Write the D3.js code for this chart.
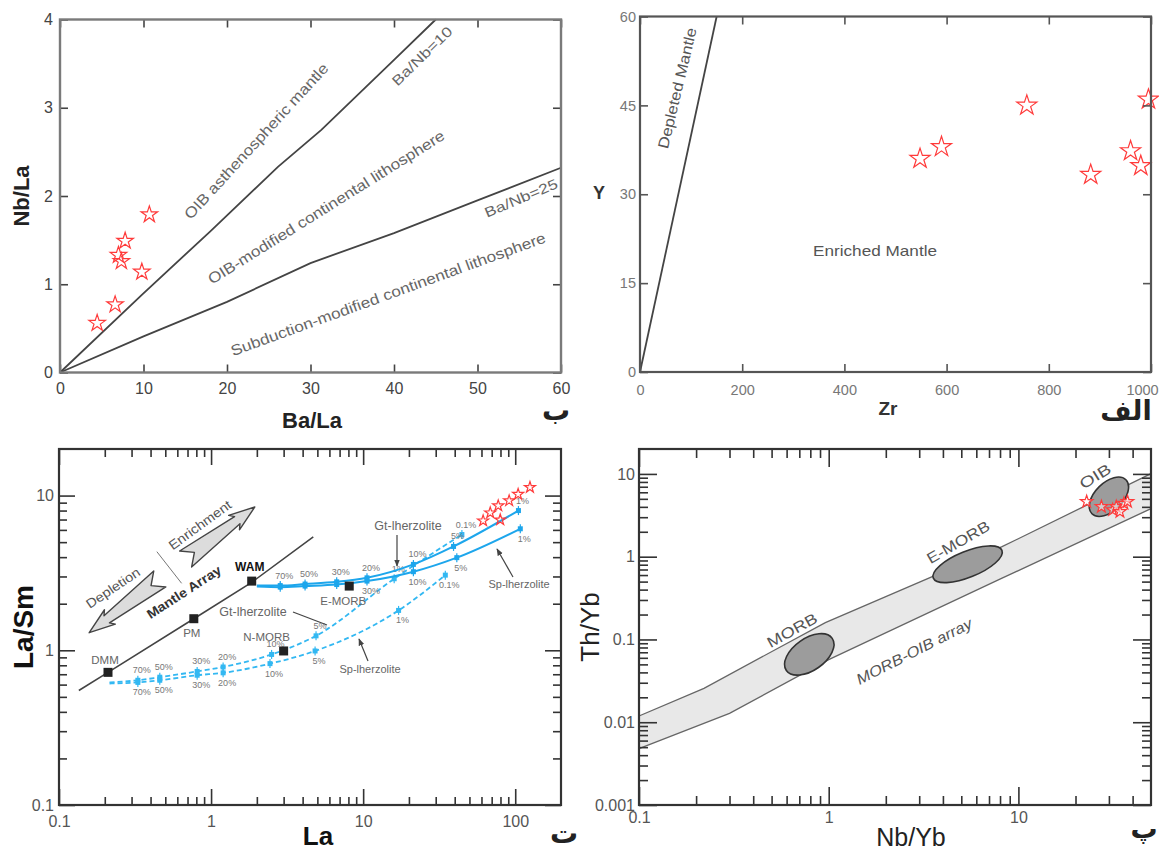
<!DOCTYPE html>
<html>
<head>
<meta charset="utf-8">
<script src="https://cdn.jsdelivr.net/npm/d3@7/dist/d3.min.js"></script>
<style>
html,body{margin:0;padding:0;background:#fff;}
svg{display:block;}
</style>
</head>
<body>
<svg id="chart" width="1159" height="857"></svg>
<script>
// ================= DATA =================
// Panel "ب": Nb/La vs Ba/La
const p1XTicks = [0, 10, 20, 30, 40, 50, 60];
const p1YTicks = [0, 1, 2, 3, 4];
const p1SampleBaLa = [4.45, 6.6, 7.0, 7.35, 7.8, 9.8, 10.7];
const p1SampleNbLa = [0.56, 0.77, 1.33, 1.26, 1.49, 1.14, 1.79];
const baNb10BaLa = [0, 9.8, 18, 26.1, 31.3, 40.1, 45];
const baNb10NbLa = [0, 0.88, 1.6, 2.33, 2.75, 3.55, 4];
const baNb25BaLa = [0, 10, 20, 30, 40, 50, 60];
const baNb25NbLa = [0, 0.41, 0.80, 1.24, 1.58, 1.95, 2.32];

// Panel "الف": Y vs Zr
const p2XTicks = [0, 200, 400, 600, 800, 1000];
const p2YTicks = [0, 15, 30, 45, 60];
const p2SampleZr = [548, 590, 757, 882, 960, 980, 995];
const p2SampleY = [36, 38, 45, 33.3, 37.3, 34.8, 46];
const depletedZr = [0, 150];
const depletedY = [0, 60];

// Panel "ت": La/Sm vs La (log-log)
const p3XMajor = [0.1, 1, 10, 100];
const p3XLabels = ["0.1", "1", "10", "100"];
const p3YMajor = [0.1, 1, 10];
const p3YLabels = ["0.1", "1", "10"];
const p3SampleLa = [61.5, 68.5, 77.3, 79.7, 91.2, 104.5, 125];
const p3SampleLaSm = [6.87, 7.74, 8.6, 6.97, 9.27, 10.2, 11.3];
const mantleArrayLa = [0.135, 0.21, 0.77, 1.85, 4.7];
const mantleArrayLaSm = [0.55, 0.72, 1.6, 2.75, 5.4];
const sourceNames = ["DMM", "PM", "WAM", "N-MORB", "E-MORB"];
const sourceLa = [0.21, 0.77, 1.85, 3.0, 8.1];
const sourceLaSm = [0.72, 1.6, 2.8, 0.99, 2.6];
// WAM-source melting curves (solid)
const wamGtLa = [2.0, 2.85, 4.15, 6.7, 10.6, 21.4, 39.3, 105];
const wamGtLaSm = [2.62, 2.62, 2.68, 2.77, 2.94, 3.59, 4.69, 8.0];
const wamGtMelt = [null, "70%", "50%", "30%", "20%", "10%", "5%", "1%"];
const wamSpLa = [2.0, 2.85, 4.15, 6.7, 10.6, 21.4, 41.3, 108];
const wamSpLaSm = [2.58, 2.56, 2.6, 2.66, 2.8, 3.22, 3.97, 6.1];
const wamSpMelt = [null, "", "", "", "30%", "10%", "5%", "1%"];
// DMM-source melting curves (dashed)
const dmmGtLa = [0.215, 0.33, 0.46, 0.81, 1.2, 2.5, 4.9, 16, 44.6];
const dmmGtLaSm = [0.62, 0.64, 0.67, 0.73, 0.78, 0.94, 1.24, 2.9, 5.6];
const dmmGtMelt = [null, "70%", "50%", "30%", "20%", "10%", "5%", "1%", "0.1%"];
const dmmSpLa = [0.215, 0.33, 0.46, 0.81, 1.2, 2.44, 4.83, 17.1, 34.7];
const dmmSpLaSm = [0.61, 0.62, 0.64, 0.69, 0.715, 0.82, 0.99, 1.81, 3.06];
const dmmSpMelt = [null, "70%", "50%", "30%", "20%", "10%", "5%", "1%", "0.1%"];
// annotation arrows (data coordinates: [La, La/Sm])
const depletionArrow = [[0.46, 2.89], [0.158, 1.30]];   // tail -> tip
const enrichmentArrow = [[0.68, 3.89], [1.94, 8.44]];   // tail -> tip
const arraySeparator = [[0.44, 4.34], [0.64, 2.71]];

// Panel "پ": Th/Yb vs Nb/Yb (log-log)
const p4XMajor = [0.1, 1, 10];
const p4XLabels = ["0.1", "1", "10"];
const p4YMajor = [0.001, 0.01, 0.1, 1, 10];
const p4YLabels = ["0.001", "0.01", "0.1", "1", "10"];
const arrayUpperNb = [0.1, 0.22, 0.96, 8.2, 50];
const arrayUpperTh = [0.0119, 0.0257, 0.16, 1.32, 10.1];
const arrayLowerNb = [0.1, 0.3, 1.0, 8.2, 50];
const arrayLowerTh = [0.0048, 0.0128, 0.057, 0.55, 3.8];
const fieldNames = ["MORB", "E-MORB", "OIB"];
const fieldNb = [0.79, 5.4, 30];
const fieldTh = [0.066, 0.81, 5.3];
const p4SampleNb = [22.9, 27.4, 31.4, 32.8, 36, 37.6, 34.3];
const p4SampleTh = [4.62, 4.02, 3.67, 4.02, 4.4, 4.62, 3.5];

// ================= DRAWING =================
const FONT = '"Liberation Sans", Arial, Helvetica, sans-serif';
const AR = '"DejaVu Sans", "Noto Sans", sans-serif';
const svg = d3.select("#chart");
svg.append("rect").attr("width", 1159).attr("height", 857).attr("fill", "#fff");
const defs = svg.append("defs");
defs.append("marker").attr("id", "ah").attr("viewBox", "0 0 10 10").attr("refX", 9).attr("refY", 5)
  .attr("markerWidth", 6).attr("markerHeight", 6).attr("orient", "auto")
  .append("path").attr("d", "M0,1 L10,5 L0,9 Z").attr("fill", "#444");

const zip = (a, b) => a.map((v, i) => [v, b[i]]);

function txt(g, x, y, s, o = {}) {
  const t = g.append("text")
    .attr("transform", `translate(${x},${y}) rotate(${o.rot || 0})`)
    .attr("text-anchor", o.anchor || "middle")
    .attr("dominant-baseline", o.base || "auto")
    .attr("font-family", o.font || FONT)
    .attr("font-size", o.size || 14)
    .attr("font-weight", o.weight || "normal")
    .attr("font-style", o.style || "normal")
    .attr("fill", o.fill || "#555")
    .text(s);
  if (o.len) t.attr("textLength", o.len).attr("lengthAdjust", "spacingAndGlyphs");
  return t;
}

function stars(g, xs, ys, sx, sy, size, fill) {
  g.selectAll(null).data(zip(xs, ys)).join("path")
    .attr("d", d3.symbol(d3.symbolStar, size)())
    .attr("transform", d => `translate(${sx(d[0])},${sy(d[1])})`)
    .attr("fill", fill || "none")
    .attr("stroke", "#ff3a3a").attr("stroke-width", 1.2);
}

function styler(o) {
  return sel => {
    sel.select(".domain").remove();
    sel.attr("font-family", FONT).attr("font-size", o.fs);
    sel.selectAll(".tick line").attr("stroke", o.tickColor).attr("stroke-width", o.tickW);
    sel.selectAll(".tick text").attr("fill", o.labelColor);
  };
}

function linAxes(g, x, y, xt, yt, o) {
  const [x0, x1] = x.range(), [y0, y1] = y.range();
  const st = styler(o), none = () => "";
  const bottom = g.append("g").attr("transform", `translate(0,${y0})`)
    .call(d3.axisBottom(x).tickValues(xt).tickSize(-o.tick).tickPadding(o.xpad).tickFormat(d3.format("d"))).call(st);
  if (o.lastDx) bottom.selectAll(".tick text").filter(d => d === xt[xt.length - 1]).attr("dx", o.lastDx);
  g.append("g").attr("transform", `translate(0,${y1})`)
    .call(d3.axisTop(x).tickValues(xt).tickSize(-o.tick).tickFormat(none)).call(st);
  g.append("g").attr("transform", `translate(${x0},0)`)
    .call(d3.axisLeft(y).tickValues(yt).tickSize(-o.tick).tickPadding(o.ypad).tickFormat(d3.format("d"))).call(st);
  g.append("g").attr("transform", `translate(${x1},0)`)
    .call(d3.axisRight(y).tickValues(yt).tickSize(-o.tick).tickFormat(none)).call(st);
  g.append("rect").attr("x", x0).attr("y", y1).attr("width", x1 - x0).attr("height", y0 - y1)
    .attr("fill", "none").attr("stroke", o.frame).attr("stroke-width", o.frameW);
}

function minors(lo, hi) { // 2..9 multiples within each decade in [lo, hi)
  const out = [];
  for (let e = Math.round(Math.log10(lo)); Math.pow(10, e) < hi; e++) {
    d3.range(2, 10).forEach(m => { const v = m * Math.pow(10, e); if (v < hi) out.push(v); });
  }
  return out;
}

function logAxes(g, x, y, xMaj, xLab, yMaj, yLab, o) {
  const [x0, x1] = x.range(), [y0, y1] = y.range();
  const st = styler(o), none = () => "";
  const fmt = (vals, labs) => d => { const i = vals.indexOf(d); return i < 0 ? "" : labs[i]; };
  const xMin = minors(x.domain()[0], x.domain()[1]);
  const yMin = minors(y.domain()[0], y.domain()[1]);
  const add = (tr, ax) => g.append("g").attr("transform", tr).call(ax).call(st);
  add(`translate(0,${y0})`, d3.axisBottom(x).tickValues(xMaj).tickSize(-o.major).tickPadding(o.xpad).tickFormat(fmt(xMaj, xLab)));
  add(`translate(0,${y0})`, d3.axisBottom(x).tickValues(xMin).tickSize(-o.minor).tickFormat(none));
  add(`translate(0,${y1})`, d3.axisTop(x).tickValues(xMaj).tickSize(-o.major).tickFormat(none));
  add(`translate(0,${y1})`, d3.axisTop(x).tickValues(xMin).tickSize(-o.minor).tickFormat(none));
  add(`translate(${x0},0)`, d3.axisLeft(y).tickValues(yMaj).tickSize(-o.major).tickPadding(o.ypad).tickFormat(fmt(yMaj, yLab)));
  add(`translate(${x0},0)`, d3.axisLeft(y).tickValues(yMin).tickSize(-o.minor).tickFormat(none));
  add(`translate(${x1},0)`, d3.axisRight(y).tickValues(yMaj).tickSize(-o.major).tickFormat(none));
  add(`translate(${x1},0)`, d3.axisRight(y).tickValues(yMin).tickSize(-o.minor).tickFormat(none));
  g.append("rect").attr("x", x0).attr("y", y1).attr("width", x1 - x0).attr("height", y0 - y1)
    .attr("fill", "none").attr("stroke", o.frame).attr("stroke-width", o.frameW);
}

// ---------------- Panel 1 (ب) ----------------
{
  const g = svg.append("g");
  const x = d3.scaleLinear().domain([0, 60]).range([60, 561]);
  const y = d3.scaleLinear().domain([0, 4]).range([372.5, 19.5]);
  const line = d3.line().x(d => x(d[0])).y(d => y(d[1]));
  g.append("path").datum(zip(baNb10BaLa, baNb10NbLa)).attr("d", line)
    .attr("fill", "none").attr("stroke", "#444").attr("stroke-width", 1.8);
  g.append("path").datum(zip(baNb25BaLa, baNb25NbLa)).attr("d", line)
    .attr("fill", "none").attr("stroke", "#444").attr("stroke-width", 1.8);
  const c = "#666";
  txt(g, 256, 141, "OIB asthenospheric mantle", { rot: -47.5, size: 15, fill: c, base: "central", len: 205 });
  txt(g, 422, 56, "Ba/Nb=10", { rot: -44, size: 14, fill: c, base: "central", len: 78 });
  txt(g, 326, 207, "OIB-modified continental lithosphere", { rot: -32, size: 15, fill: c, base: "central", len: 276 });
  txt(g, 521, 198, "Ba/Nb=25", { rot: -23, size: 14, fill: c, base: "central", len: 78 });
  txt(g, 388, 294, "Subduction-modified continental lithosphere", { rot: -20, size: 15, fill: c, base: "central", len: 334 });
  stars(g, p1SampleBaLa, p1SampleNbLa, x, y, 85);
  linAxes(g, x, y, p1XTicks, p1YTicks, { tick: 8, xpad: 10, ypad: 7, fs: 16, tickColor: "#444", tickW: 1.6, labelColor: "#444", frame: "#7a7a7a", frameW: 2.4 });
  txt(g, 312, 428, "Ba/La", { size: 22, weight: "bold", fill: "#222" });
  txt(g, 21, 196, "Nb/La", { rot: -90, size: 22, weight: "bold", fill: "#222", base: "central" });
  txt(g, 556, 420, "ب", { size: 28, weight: "bold", fill: "#222", font: AR });
}

// ---------------- Panel 2 (الف) ----------------
{
  const g = svg.append("g");
  const x = d3.scaleLinear().domain([0, 1000]).range([640, 1151]);
  const y = d3.scaleLinear().domain([0, 60]).range([372, 16.5]);
  const line = d3.line().x(d => x(d[0])).y(d => y(d[1]));
  g.append("path").datum(zip(depletedZr, depletedY)).attr("d", line)
    .attr("fill", "none").attr("stroke", "#444").attr("stroke-width", 1.8);
  txt(g, 677, 88, "Depleted Mantle", { rot: -76.5, size: 15, fill: "#555", base: "central", len: 124 });
  txt(g, 875, 250, "Enriched Mantle", { size: 15, fill: "#555", base: "central", len: 124 });
  stars(g, p2SampleZr, p2SampleY, x, y, 125);
  linAxes(g, x, y, p2XTicks, p2YTicks, { tick: 8, xpad: 13, ypad: 4, fs: 14.5, tickColor: "#555", tickW: 1.6, labelColor: "#777", frame: "#555", frameW: 2.2, lastDx: -9 });
  txt(g, 888, 415, "Zr", { size: 19, weight: "bold", fill: "#333" });
  txt(g, 599, 199, "Y", { size: 18, weight: "bold", fill: "#333" });
  txt(g, 1126, 420, "الف", { size: 27, weight: "bold", fill: "#222", font: AR });
}

// ---------------- Panel 3 (ت) ----------------
{
  const g = svg.append("g");
  const x = d3.scaleLog().domain([0.1, 200]).range([59, 561]);
  const y = d3.scaleLog().domain([0.1, 20]).range([805, 449]);
  const P = d => [x(d[0]), y(d[1])];
  const straight = d3.line().x(d => x(d[0])).y(d => y(d[1]));
  const smooth = d3.line().x(d => x(d[0])).y(d => y(d[1])).curve(d3.curveMonotoneX);

  // mantle array
  g.append("path").datum(zip(mantleArrayLa, mantleArrayLaSm)).attr("d", straight)
    .attr("fill", "none").attr("stroke", "#444").attr("stroke-width", 1.6);
  g.append("path").datum(arraySeparator).attr("d", straight)
    .attr("fill", "none").attr("stroke", "#777").attr("stroke-width", 1);

  // big arrows
  function dart(tail, tip) {
    const [tx, ty] = P(tail), [px, py] = P(tip);
    const L = Math.hypot(px - tx, py - ty), ux = (px - tx) / L, uy = (py - ty) / L, nx = -uy, ny = ux;
    const pt = (a, b) => [tx + ux * a + nx * b, ty + uy * a + ny * b];
    const pts = [pt(L, 0), pt(L - 26, 9), pt(L - 22, 4.5), pt(0, 10), pt(11, 0), pt(0, -10), pt(L - 22, -4.5), pt(L - 26, -9)];
    g.append("path").attr("d", "M" + pts.map(p => p.join(",")).join("L") + "Z")
      .attr("fill", "#dcdcdc").attr("stroke", "#444").attr("stroke-width", 1.4).attr("stroke-linejoin", "round");
  }
  dart(depletionArrow[0], depletionArrow[1]);
  dart(enrichmentArrow[0], enrichmentArrow[1]);
  txt(g, 113, 588, "Depletion", { rot: -34, size: 13, fill: "#555", base: "central", len: 62 });
  txt(g, 200, 525, "Enrichment", { rot: -36, size: 13, fill: "#555", base: "central", len: 74 });
  txt(g, 184, 592, "Mantle Array", { rot: -33, size: 13, weight: "bold", fill: "#333", base: "central", len: 86 });

  // melting curves
  function curve(las, rats, labs, color, w, dash, above) {
    g.append("path").datum(zip(las, rats)).attr("d", smooth)
      .attr("fill", "none").attr("stroke", color).attr("stroke-width", w)
      .attr("stroke-dasharray", dash);
    zip(las, rats).forEach((d, i) => {
      if (labs[i] === null) return;
      const [cx, cy] = P(d);
      g.append("rect").attr("x", cx - 2.5).attr("y", cy - 2.5).attr("width", 5).attr("height", 5).attr("fill", color);
      g.append("line").attr("x1", cx).attr("x2", cx).attr("y1", cy - 4.5).attr("y2", cy + 4.5).attr("stroke", color).attr("stroke-width", 1.2);
      if (labs[i]) txt(g, cx + 4, above ? cy - 7 : cy + 13, labs[i], { size: 9, fill: "#777" });
    });
  }
  const blue = "#1da6ec", lblue = "#33b8f2";
  curve(dmmSpLa, dmmSpLaSm, dmmSpMelt, lblue, 1.8, "5,3", false);
  curve(dmmGtLa, dmmGtLaSm, dmmGtMelt, lblue, 1.8, "5,3", true);
  curve(wamSpLa, wamSpLaSm, wamSpMelt, blue, 2, null, false);
  curve(wamGtLa, wamGtLaSm, wamGtMelt, blue, 2, null, true);

  // source squares
  const sOff = [[-3, -8], [-2, 18], [-2, -10], [-17, -10], [-6, 19]];
  zip(sourceLa, sourceLaSm).forEach((d, i) => {
    const [cx, cy] = P(d);
    g.append("rect").attr("x", cx - 4.5).attr("y", cy - 4.5).attr("width", 9).attr("height", 9).attr("fill", "#222");
    const isW = sourceNames[i] === "WAM";
    txt(g, cx + sOff[i][0], cy + sOff[i][1], sourceNames[i],
      { size: isW ? 12 : 11.5, weight: isW ? "bold" : "normal", fill: isW ? "#111" : "#666" });
  });

  // pointer labels
  const ptr = (x1, y1, x2, y2, head) => g.append("line").attr("x1", x1).attr("y1", y1).attr("x2", x2).attr("y2", y2)
    .attr("stroke", "#444").attr("stroke-width", 1.2).attr("marker-end", head ? "url(#ah)" : null);
  txt(g, 253, 616, "Gt-lherzolite", { size: 12.5, fill: "#666" });
  ptr(293, 612, 327, 625, false);
  txt(g, 370, 673, "Sp-lherzolite", { size: 11, fill: "#666" });
  ptr(368, 661, 359, 639, true);
  txt(g, 408, 530, "Gt-lherzolite", { size: 12.5, fill: "#666" });
  ptr(397, 535, 397, 566, true);
  txt(g, 519, 588, "Sp-lherzolite", { size: 11, fill: "#666" });
  ptr(513, 577, 497, 549, true);

  stars(g, p3SampleLa, p3SampleLaSm, x, y, 38);
  logAxes(g, x, y, p3XMajor, p3XLabels, p3YMajor, p3YLabels,
    { major: 16, minor: 8, xpad: 11, ypad: 5, fs: 16, tickColor: "#333", tickW: 1.6, labelColor: "#555", frame: "#333", frameW: 2.2 });
  txt(g, 318, 845, "La", { size: 26, weight: "bold", fill: "#111" });
  txt(g, 23, 627, "La/Sm", { rot: -90, size: 28, weight: "bold", fill: "#111", base: "central" });
  txt(g, 564, 843, "ت", { size: 28, weight: "bold", fill: "#222", font: AR });
}

// ---------------- Panel 4 (پ) ----------------
{
  const g = svg.append("g");
  const x = d3.scaleLog().domain([0.1, 50]).range([639, 1151]);
  const y = d3.scaleLog().domain([0.001, 20]).range([805, 449]);
  const line = d3.line().x(d => x(d[0])).y(d => y(d[1]));
  const up = zip(arrayUpperNb, arrayUpperTh), lo = zip(arrayLowerNb, arrayLowerTh);
  g.append("path").attr("d", line(up.concat(lo.slice().reverse())) + "Z").attr("fill", "#e8e8e8");
  g.append("path").attr("d", line(up)).attr("fill", "none").attr("stroke", "#666").attr("stroke-width", 1.3);
  g.append("path").attr("d", line(lo)).attr("fill", "none").attr("stroke", "#666").attr("stroke-width", 1.3);

  const shape = [[28, 16, -35], [37, 13, -22], [24, 14, -45]];
  fieldNames.forEach((n, i) => {
    const cx = x(fieldNb[i]), cy = y(fieldTh[i]);
    g.append("ellipse").attr("cx", cx).attr("cy", cy).attr("rx", shape[i][0]).attr("ry", shape[i][1])
      .attr("transform", `rotate(${shape[i][2]},${cx},${cy})`)
      .attr("fill", "#9c9c9c").attr("stroke", "#333").attr("stroke-width", 1.6);
  });
  txt(g, 792, 630, "MORB", { rot: -29, size: 15, fill: "#555", base: "central", len: 55 });
  txt(g, 958, 542, "E-MORB", { rot: -30, size: 15, fill: "#555", base: "central", len: 70 });
  txt(g, 1095, 476, "OIB", { rot: -32, size: 15, fill: "#555", base: "central", len: 34 });
  txt(g, 914, 651, "MORB-OIB array", { rot: -27, size: 15, fill: "#555", base: "central", style: "italic", len: 128 });

  stars(g, p4SampleNb, p4SampleTh, x, y, 48, "rgba(255,255,255,0.55)");
  logAxes(g, x, y, p4XMajor, p4XLabels, p4YMajor, p4YLabels,
    { major: 18, minor: 9, xpad: 7, ypad: 4, fs: 16, tickColor: "#333", tickW: 1.6, labelColor: "#555", frame: "#333", frameW: 2.2 });
  txt(g, 911, 846, "Nb/Yb", { size: 25, fill: "#222" });
  txt(g, 590, 627, "Th/Yb", { rot: -90, size: 26, fill: "#222", base: "central" });
  txt(g, 1144, 838, "پ", { size: 27, weight: "bold", fill: "#222", font: AR });
}
</script>
</body>
</html>
